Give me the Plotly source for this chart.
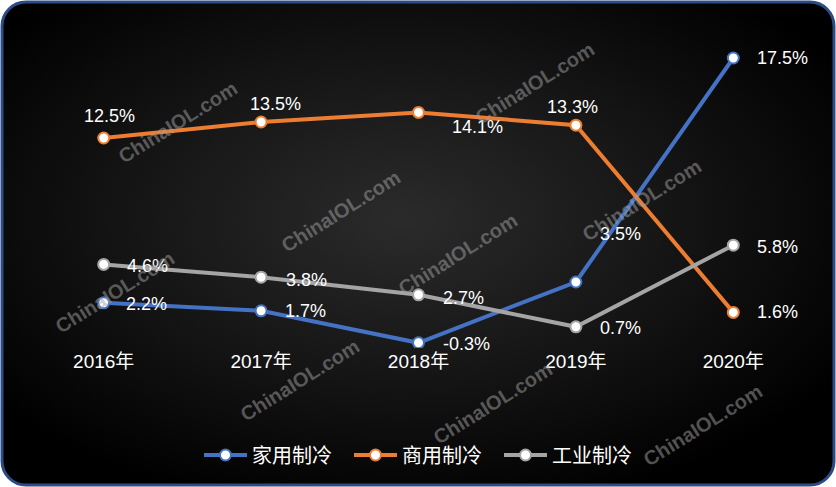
import base64
import plotly.graph_objects as go

# 数据
years = ['2016年', '2017年', '2018年', '2019年', '2020年']
home = [2.2, 1.7, -0.3, 3.5, 17.5]        # 家用制冷
commercial = [12.5, 13.5, 14.1, 13.3, 1.6]  # 商用制冷
industrial = [4.6, 3.8, 2.7, 0.7, 5.8]     # 工业制冷
series_names = ['家用制冷', '商用制冷', '工业制冷']

colors = ['#4472c4', '#ed7d31', '#a5a5a5']

W, H = 836, 487
ML, MR, MT, MB = 25, 24, 10, 139
PW, PH = W - ML - MR, H - MT - MB

# label offsets (xshift, yshift, xanchor) per series / point
label_pos = [
    [(20, -1, 'left'), (22, 0, 'left'), (22, -1, 'left'), (22, 48, 'left'), (22, 0, 'left')],
    [(6, 22, 'center'), (14, 18, 'center'), (31, -15, 'left'), (-3, 18, 'center'), (22, 0, 'left')],
    [(21, -2, 'left'), (23, -3, 'left'), (22, -3, 'left'), (22, -1, 'left'), (22, -2, 'left')],
]

# watermark centres in page pixels
wm_centres = [(178, 122), (341, 211), (535, 83), (642, 200), (115, 292),
              (458, 254), (300, 380), (493, 403), (703, 425)]


def px_to_paper(px, py):
    return (px - ML) / PW, (H - MB - py) / PH


# background: rounded dark panel with radial glow
svg = f'''<svg xmlns="http://www.w3.org/2000/svg" width="{W}" height="{H}" viewBox="0 0 {W} {H}">
<defs><radialGradient id="g" cx="0.48" cy="0.45" r="0.62">
<stop offset="0" stop-color="#2b2b2b"/><stop offset="0.55" stop-color="#141414"/>
<stop offset="1" stop-color="#000000"/></radialGradient></defs>
<rect x="0" y="0" width="{W}" height="{H}" fill="#ffffff"/>
<rect x="2" y="2" width="{W - 4}" height="{H - 4}" rx="24" ry="24" fill="url(#g)" stroke="#2c4c86" stroke-width="3"/>
</svg>'''
bg_src = 'data:image/svg+xml;base64,' + base64.b64encode(svg.encode()).decode()

fig = go.Figure()
for name, vals, c in zip(series_names, [home, commercial, industrial], colors):
    fig.add_trace(go.Scatter(
        x=years, y=vals, name=name, mode='lines+markers',
        line=dict(color=c, width=4),
        marker=dict(size=11, color='#ffffff', line=dict(color=c, width=2)),
        hoverinfo='skip'))

# data labels
for vals, pos in zip([home, commercial, industrial], label_pos):
    for yr, v, (dx, dy, anc) in zip(years, vals, pos):
        fig.add_annotation(x=yr, y=v, text=f'{v:.1f}%', showarrow=False,
                           xanchor=anc, yanchor='middle', xshift=dx, yshift=dy,
                           font=dict(family='Liberation Sans', size=18, color='#ffffff'))

# watermarks
for cx, cy in wm_centres:
    ax, ay = px_to_paper(cx, cy)
    fig.add_annotation(x=ax, y=ay, xref='paper', yref='paper', text='<b>ChinaIOL.com</b>',
                       showarrow=False, textangle=-32, xanchor='center', yanchor='middle',
                       font=dict(family='Liberation Sans', size=20, color='rgba(160,160,160,0.5)'))

ix, iy = px_to_paper(0, 0)
fig.add_layout_image(source=bg_src, xref='paper', yref='paper', x=ix, y=iy,
                     sizex=W / PW, sizey=H / PH, xanchor='left', yanchor='top',
                     sizing='stretch', layer='below')

lx, ly = px_to_paper(424, 455)
fig.update_layout(
    width=W, height=H,
    margin=dict(l=ML, r=MR, t=MT, b=MB),
    paper_bgcolor='#ffffff', plot_bgcolor='rgba(0,0,0,0)',
    font=dict(family='Liberation Sans, Noto Sans CJK SC', size=18, color='#ffffff'),
    showlegend=True,
    legend=dict(orientation='h', x=lx, xanchor='center', y=ly, yanchor='middle',
                itemwidth=43, entrywidth=92, entrywidthmode='pixels',
                bgcolor='rgba(0,0,0,0)', font=dict(size=20, color='#ffffff')),
    xaxis=dict(range=[-0.5, 4.5], showgrid=False, zeroline=False, showline=False,
               ticks='', tickfont=dict(size=19, color='#ffffff')),
    yaxis=dict(range=[-0.625, 20.5], visible=False),
)

fig.write_html('out.html', config={'displayModeBar': False},
               post_script="document.body.style.margin='0';document.body.style.overflow='hidden';")
